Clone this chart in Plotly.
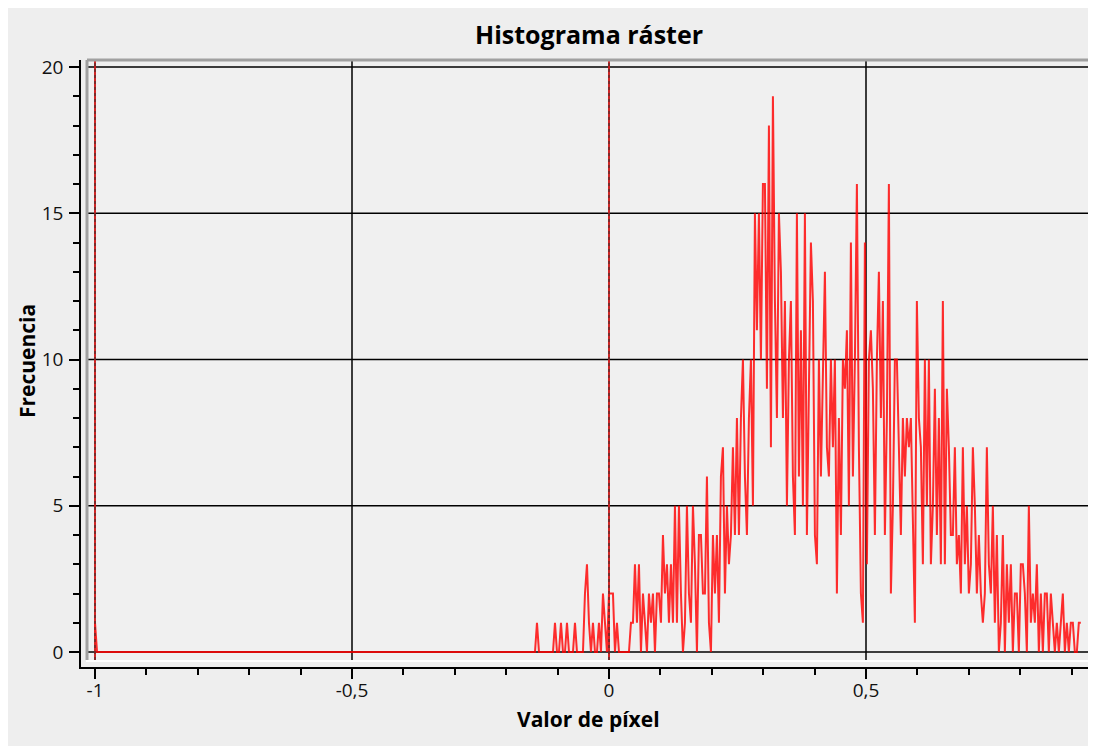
import numpy as np
import plotly.graph_objects as go

# ---------------- data ----------------
# isolated first bin at the minimum value
lead_x = [-1.0, -0.996]
lead_counts = [1, 0]

# histogram bins of the populated part
bin_start = -0.144
bin_width = 0.00389
counts = [
    0, 1, 0, 0, 0, 0, 0, 0, 0, 0, 1, 0, 0, 1, 0, 0, 1, 0, 0, 0,
    1, 0, 0, 0, 0, 2, 3, 1, 0, 1, 0, 0, 1, 0, 2, 1, 0, 2,
    2, 2, 0, 1, 0, 0, 0, 0, 0, 0, 1, 1, 3, 1, 3, 0, 2, 1, 0, 2,
    1, 2, 0, 2, 2, 1, 4, 2, 3, 1, 3, 1, 5, 1, 5, 2, 0, 1, 5, 2,
    1, 5, 3, 0, 4, 4, 2, 2, 6, 1, 0, 4, 2, 4, 1, 6, 7, 2, 5, 3,
    4, 7, 4, 8, 4, 8, 10, 6, 4, 8, 10, 5, 15, 11, 15, 10, 16, 16, 9, 18,
    7, 19, 12, 8, 15, 13, 8, 12, 5, 10, 12, 6, 4, 15, 6, 11, 5, 15, 4, 9,
    14, 12, 4, 3, 10, 6, 9, 13, 7, 6, 10, 7, 10, 2, 8, 4, 10, 9,
    11, 5, 14, 6, 10, 16, 7, 2, 1, 14, 3, 10, 11, 9, 4, 10, 13, 8, 12, 4,
    8, 16, 2, 5, 10, 10, 7, 4, 8, 6, 8, 7, 8, 5, 1, 12, 8, 7, 3, 10,
    5, 10, 3, 5, 9, 4, 8, 3, 12, 3, 9, 7, 4, 4, 7, 3, 4, 2, 7, 3,
    5, 2, 3, 7, 5, 2, 4, 2, 1, 2, 7, 3, 2, 5, 1, 4, 0, 1, 4, 0,
    3, 1, 3, 0, 2, 2, 0, 3, 3, 2, 0, 5, 1, 2, 1, 3, 0, 2, 0, 2,
    2, 0, 2, 1, 0, 1, 0, 1, 2, 0, 1, 0, 1, 1, 0, 0, 1, 1,
]

x_ticks = [-1, -0.5, 0, 0.5]
x_tick_labels = ["-1", "-0,5", "0", "0,5"]
y_ticks = [0, 5, 10, 15, 20]
y_tick_labels = ["0", "5", "10", "15", "20"]
marker_lines = [-1.0, 0.0]   # min / max markers

title_text = "Histograma ráster"
x_title = "Valor de píxel"
y_title = "Frecuencia"

# ---------------- figure ----------------
bin_x = bin_start + bin_width * np.arange(len(counts))
xs = list(lead_x) + list(bin_x)
ys = list(lead_counts) + list(counts)

W, H = 1096, 746
OFF = 8  # page body margin shifts the figure by this many pixels

# target screen pixel positions
scr_plot_l, scr_plot_r, scr_plot_t, scr_plot_b = 81, 1092, 60, 667
ml = scr_plot_l - OFF
mt = scr_plot_t - OFF
mr = W - (scr_plot_r - OFF)
mb = H - (scr_plot_b - OFF)
pw = W - ml - mr
ph = H - mt - mb

# canvas (inner frame) in screen pixels
cv_l, cv_r, cv_t, cv_b = 88, 1092, 60, 660

def px2paperx(px):
    return (px - scr_plot_l) / pw

def py2papery(py):
    return (scr_plot_b - py) / ph

x_range = [-1.02724, 0.93969]
y_range = [-0.5128, 20.2393]

fig = go.Figure()
fig.add_trace(go.Scatter(
    x=xs, y=ys, mode="lines",
    line=dict(color="rgba(255,0,0,0.82)", width=2),
    hoverinfo="skip", showlegend=False,
))

shapes = []
shapes.append(dict(type="rect", xref="paper", yref="paper",
                   x0=px2paperx(cv_l), x1=px2paperx(cv_r),
                   y0=py2papery(cv_b), y1=py2papery(cv_t),
                   fillcolor="#f0f0f0", line=dict(width=0), layer="below"))
for yv in y_ticks:
    shapes.append(dict(type="line", xref="paper", yref="y",
                       x0=px2paperx(cv_l), x1=px2paperx(cv_r), y0=yv, y1=yv,
                       line=dict(color="#000000", width=1.5), layer="below"))
for xv in x_ticks:
    shapes.append(dict(type="line", xref="x", yref="paper",
                       x0=xv, x1=xv, y0=py2papery(cv_b), y1=py2papery(cv_t),
                       line=dict(color="#000000", width=1.5), layer="below"))
for xv in marker_lines:
    shapes.append(dict(type="line", xref="x", yref="paper",
                       x0=xv, x1=xv, y0=py2papery(cv_b), y1=py2papery(cv_t),
                       line=dict(color="#ff2020", width=1.5), layer="above"))
    shapes.append(dict(type="line", xref="x", yref="paper",
                       x0=xv, x1=xv, y0=py2papery(cv_b), y1=py2papery(cv_t),
                       line=dict(color="#303030", width=1, dash="3px,3px"), layer="above"))
shapes.append(dict(type="line", xref="paper", yref="paper",
                   x0=px2paperx(cv_l - 1), x1=px2paperx(cv_r), y0=py2papery(cv_t), y1=py2papery(cv_t),
                   line=dict(color="#a0a0a0", width=3), layer="above"))
shapes.append(dict(type="line", xref="paper", yref="paper",
                   x0=px2paperx(cv_l - 1), x1=px2paperx(cv_l - 1), y0=py2papery(cv_b), y1=py2papery(cv_t),
                   line=dict(color="#a0a0a0", width=3), layer="above"))
shapes.append(dict(type="line", xref="paper", yref="paper",
                   x0=px2paperx(cv_l - 2), x1=px2paperx(cv_r), y0=py2papery(cv_b + 1), y1=py2papery(cv_b + 1),
                   line=dict(color="#ffffff", width=2), layer="above"))

font_family = "Open Sans, Noto Sans, sans-serif"

fig.update_layout(
    width=W, height=H,
    margin=dict(l=ml, r=mr, t=mt, b=mb),
    paper_bgcolor="#eeeeee",
    plot_bgcolor="#eeeeee",
    font=dict(family=font_family, color="#000000", size=16),
    showlegend=False,
    shapes=shapes,
    xaxis=dict(
        range=x_range, showgrid=False, zeroline=False,
        showline=True, linecolor="#000000", linewidth=1.5,
        tickmode="array", tickvals=x_ticks, ticktext=x_tick_labels,
        ticks="outside", ticklen=10, tickwidth=1.5, tickcolor="#000000",
        tickfont=dict(size=19, family=font_family, color="#111111"),
        ticklabelstandoff=-5,
        minor=dict(tickmode="linear", tick0=-1, dtick=0.1, ticks="outside",
                   ticklen=6, tickwidth=1.5, tickcolor="#000000", showgrid=False),
        fixedrange=True,
    ),
    yaxis=dict(
        range=y_range, showgrid=False, zeroline=False,
        showline=True, linecolor="#000000", linewidth=1.5,
        tickmode="array", tickvals=y_ticks, ticktext=y_tick_labels,
        ticks="outside", ticklen=10, tickwidth=1.5, tickcolor="#000000",
        tickfont=dict(size=19, family=font_family, color="#111111"),
        ticklabelstandoff=2,
        minor=dict(tickmode="linear", tick0=0, dtick=1, ticks="outside",
                   ticklen=6, tickwidth=1.5, tickcolor="#000000", showgrid=False),
        fixedrange=True,
    ),
    annotations=[
        dict(text="<b>%s</b>" % title_text, xref="paper", yref="paper",
             x=px2paperx(589), y=py2papery(34), xanchor="center", yanchor="middle",
             showarrow=False, font=dict(size=25, family=font_family, color="#000000")),
        dict(text="<b>%s</b>" % x_title, xref="paper", yref="paper",
             x=px2paperx(588), y=py2papery(719), xanchor="center", yanchor="middle",
             showarrow=False, font=dict(size=21, family=font_family, color="#000000")),
        dict(text="<b>%s</b>" % y_title, xref="paper", yref="paper",
             x=px2paperx(27), y=py2papery(361), xanchor="center", yanchor="middle",
             textangle=-90, showarrow=False,
             font=dict(size=21, family=font_family, color="#000000")),
    ],
)

fig.write_html("out.html")
